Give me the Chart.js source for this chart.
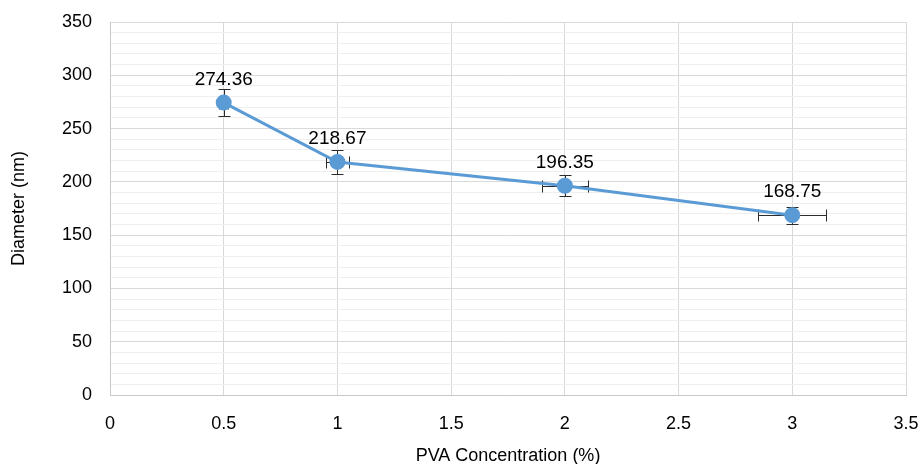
<!DOCTYPE html>
<html>
<head>
<meta charset="utf-8">
<script src="https://cdn.jsdelivr.net/npm/chart.js@4"></script>
<style>
  html, body { margin: 0; padding: 0; background: #ffffff; }
  #wrap { width: 921px; height: 464px; position: relative; }
</style>
</head>
<body>
<div id="wrap"><canvas id="chart" width="921" height="464"></canvas></div>
<script>
// PVA concentration (%) vs. particle diameter (nm), with error bars
const concentrations = [0.5, 1, 2, 3];
const diameters = [274.36, 218.67, 196.35, 168.75];
const diameterErr = [13, 11, 10, 8];
const concentrationErr = [0.02, 0.05, 0.1, 0.15];
const xTickValues = [0, 0.5, 1, 1.5, 2, 2.5, 3, 3.5];
const yTickValues = [0, 50, 100, 150, 200, 250, 300, 350];

const FONT = '"Liberation Sans", Arial, Helvetica, sans-serif';
const LINE_BLUE = '#5b9bd5';

// Draws x and y error bars with caps, using the chart's own scales
const errorBars = {
  id: 'errorBars',
  beforeDatasetsDraw(chart) {
    const { ctx, scales: { x, y } } = chart;
    const cap = 6;
    ctx.save();
    ctx.strokeStyle = '#2b2b2b';
    ctx.lineWidth = 1;
    concentrations.forEach((c, i) => {
      const px = Math.round(x.getPixelForValue(c)) + 0.5;
      const py = Math.round(y.getPixelForValue(diameters[i])) + 0.5;
      const yTop = Math.round(y.getPixelForValue(diameters[i] + diameterErr[i])) + 0.5;
      const yBot = Math.round(y.getPixelForValue(diameters[i] - diameterErr[i])) + 0.5;
      const xL = Math.round(x.getPixelForValue(c - concentrationErr[i])) + 0.5;
      const xR = Math.round(x.getPixelForValue(c + concentrationErr[i])) + 0.5;
      ctx.beginPath();
      ctx.moveTo(px, yTop); ctx.lineTo(px, yBot);
      ctx.moveTo(px - cap, yTop); ctx.lineTo(px + cap, yTop);
      ctx.moveTo(px - cap, yBot); ctx.lineTo(px + cap, yBot);
      ctx.moveTo(xL, py); ctx.lineTo(xR, py);
      ctx.moveTo(xL, py - cap); ctx.lineTo(xL, py + cap);
      ctx.moveTo(xR, py - cap); ctx.lineTo(xR, py + cap);
      ctx.stroke();
    });
    ctx.restore();
  }
};

// Value labels above each point
const valueLabels = {
  id: 'valueLabels',
  afterDatasetsDraw(chart) {
    const { ctx, scales: { x, y } } = chart;
    ctx.save();
    ctx.fillStyle = '#000000';
    ctx.font = '19px ' + FONT;
    ctx.textAlign = 'center';
    ctx.textBaseline = 'middle';
    concentrations.forEach((c, i) => {
      const px = x.getPixelForValue(c);
      const py = y.getPixelForValue(diameters[i]);
      ctx.fillText(diameters[i].toFixed(2), px, py - 23);
    });
    ctx.restore();
  }
};

new Chart(document.getElementById('chart'), {
  type: 'scatter',
  data: {
    datasets: [{
      label: 'Diameter',
      data: concentrations.map((c, i) => ({ x: c, y: diameters[i] })),
      showLine: true,
      borderColor: LINE_BLUE,
      backgroundColor: LINE_BLUE,
      borderWidth: 3,
      pointRadius: 6.5,
      pointHoverRadius: 6.5,
      pointBackgroundColor: LINE_BLUE,
      pointBorderColor: LINE_BLUE
    }]
  },
  options: {
    responsive: false,
    animation: false,
    events: [],
    layout: { padding: { top: 22, right: 15, left: 0, bottom: 0 } },
    plugins: { legend: { display: false }, tooltip: { enabled: false } },
    scales: {
      x: {
        type: 'linear',
        min: 0,
        max: 3.5,
        afterBuildTicks(scale) { scale.ticks = xTickValues.map(v => ({ value: v })); },
        afterFit(scale) {
          scale.height = 69;
          scale.paddingLeft = 0;
          scale.paddingRight = 0;
        },
        ticks: {
          color: '#000000',
          font: { family: FONT, size: 18 },
          padding: 18,
          maxRotation: 0,
          autoSkip: false,
          callback: v => String(v)
        },
        grid: { color: '#d9d9d9', lineWidth: 1, tickLength: 0 },
        border: { color: '#c8c8c8', width: 1 },
        title: {
          display: true,
          text: 'PVA Concentration (%)',
          color: '#000000',
          font: { family: FONT, size: 18 },
          padding: { top: 0, bottom: -3 }
        }
      },
      y: {
        type: 'linear',
        min: 0,
        max: 350,
        afterBuildTicks(scale) {
          const t = [];
          for (let v = 0; v <= 350; v += 10) t.push({ value: v });
          scale.ticks = t;
        },
        afterFit(scale) {
          scale.width = 110;
          scale.paddingTop = 0;
          scale.paddingBottom = 0;
        },
        ticks: {
          color: '#000000',
          font: { family: FONT, size: 18 },
          padding: 18,
          autoSkip: false,
          callback: v => (yTickValues.includes(v) ? String(v) : '')
        },
        grid: {
          color: ctx => (ctx.tick && ctx.tick.value % 50 === 0 ? '#d9d9d9' : '#efefef'),
          lineWidth: 1,
          tickLength: 0
        },
        border: { color: '#c8c8c8', width: 1 },
        title: {
          display: true,
          text: 'Diameter (nm)',
          color: '#000000',
          font: { family: FONT, size: 18 },
          padding: { top: 8, bottom: 0 }
        }
      }
    }
  },
  plugins: [errorBars, valueLabels]
});
</script>
</body>
</html>
